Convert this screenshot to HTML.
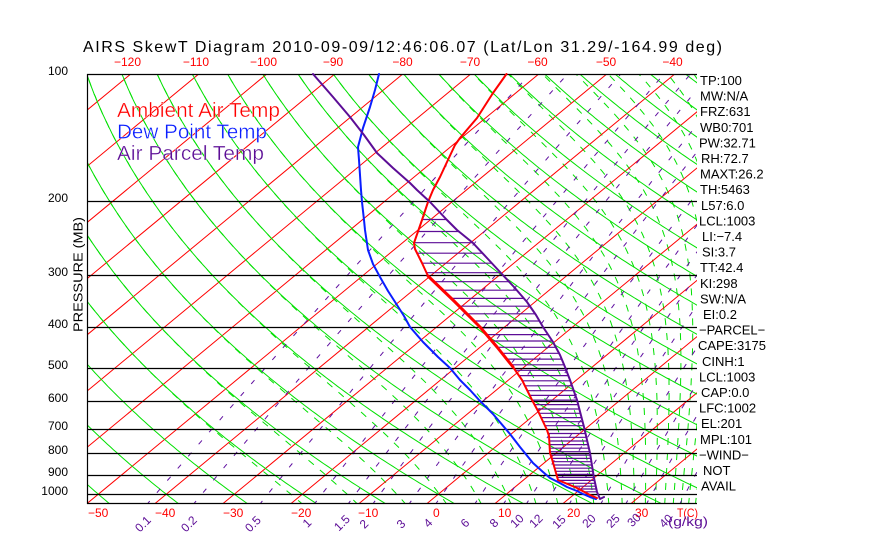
<!DOCTYPE html>
<html>
<head>
<meta charset="utf-8">
<style>
html,body{margin:0;padding:0;background:#fff;}
svg{display:block;}
text{font-family:"Liberation Sans",sans-serif;}
</style>
</head>
<body>
<svg id="s" width="870" height="560" viewBox="0 0 870 560" xmlns="http://www.w3.org/2000/svg">
<defs><clipPath id="c"><rect x="87" y="74" width="610" height="429"/></clipPath></defs>
<rect width="870" height="560" fill="#fff"/>
<g id="grid" clip-path="url(#c)" fill="none"></g>
<g id="hatch" clip-path="url(#c)" fill="none"></g>

<!-- pressure lines -->
<g stroke="#000" stroke-width="1.2" fill="none">
<path d="M87 74.5H697M87 201.5H697M87 275.5H697M87 327.5H697M87 368.5H697M87 401.5H697M87 429.5H697M87 453.5H697M87 475.5H697M87 494.5H697M87 503.5H697"/>
<path d="M87.5 74V504"/>
</g>

<!-- data curves -->
<g fill="none" stroke-linejoin="round" stroke-linecap="round">
<polyline stroke="#0a1eff" stroke-width="2" points="379,74 375,90 370,107 363,128 358,147 359,160 360,175 361,190 362,202 364,220 365,230 368,250 373,264 380,277 388,291 397,305 404,316 410,327 423,342 438,357 450,368 460,380 470,390 480,401 493,414 510,434 520,447 533,463 543,472 550,478 558,482 567,487 577,491 583,494 590,497 596,499"/>
<polyline stroke="#ff0000" stroke-width="2" points="506.5,74 493,93 477,118 460,138 455,145 447,162 440,177 433,190 428,202 422,220 414,243 415,249 417,253 422,263 428,276 454,301 480,327 497,347 513,367 522,380 532,400 538,411 547,430 549,436 550,453 552,459 558,480 577,488 590,495 597,498"/>
<polyline stroke="#ff0000" stroke-width="3" points="428,276 454,301 480,327 497,347 513,367"/>
<polyline stroke="#5c0d96" stroke-width="2" points="313,74 333,97 350,117 364,135 377,153 393,168 410,183 417,190 430,202 447,220 457,230 473,243 487,258 500,272 514,287 527,302 536,315 543,327 553,342 560,355 565,367 570,380 577,400 584,427 590,453 594,478 597,492 600,499 604,497"/>
</g>

<!-- title -->
<text x="83" y="52" font-size="16" textLength="639" lengthAdjust="spacing" fill="#000">AIRS SkewT Diagram 2010-09-09/12:46:06.07 (Lat/Lon 31.29/-164.99 deg)</text>

<!-- top temperature labels -->
<g font-size="12" fill="#ff0000" text-anchor="middle">
<text x="127.5" y="66">−120</text>
<text x="196" y="66">−110</text>
<text x="263.5" y="66">−100</text>
<text x="333" y="66">−90</text>
<text x="402.5" y="66">−80</text>
<text x="470" y="66">−70</text>
<text x="537.5" y="66">−60</text>
<text x="606" y="66">−50</text>
<text x="672.5" y="66">−40</text>
</g>

<!-- bottom temperature labels -->
<g font-size="12" fill="#ff0000">
<text x="88" y="517">−50</text>
<text x="155" y="517">−40</text>
<text x="223" y="517">−30</text>
<text x="291" y="517">−20</text>
<text x="358" y="517">−10</text>
<text x="433" y="517">0</text>
<text x="498" y="517">10</text>
<text x="567" y="517">20</text>
<text x="635" y="517">30</text>
<text x="677" y="517" textLength="21" lengthAdjust="spacingAndGlyphs">T(C)</text>
</g>

<!-- mixing ratio labels -->
<g font-size="12" fill="#5c0d96" text-anchor="middle">
<text x="143" y="528" transform="rotate(-45 143 524)">0.1</text>
<text x="189" y="528" transform="rotate(-45 189 524)">0.2</text>
<text x="253" y="528" transform="rotate(-45 253 524)">0.5</text>
<text x="307" y="527" transform="rotate(-45 307 523)">1</text>
<text x="342" y="527" transform="rotate(-45 342 523)">1.5</text>
<text x="364" y="528" transform="rotate(-45 364 524)">2</text>
<text x="401" y="528" transform="rotate(-45 401 524)">3</text>
<text x="428" y="527" transform="rotate(-45 428 523)">4</text>
<text x="465" y="527" transform="rotate(-45 465 523)">6</text>
<text x="494" y="527" transform="rotate(-45 494 523)">8</text>
<text x="517" y="525" transform="rotate(-45 517 521)">10</text>
<text x="536" y="525" transform="rotate(-45 536 521)">12</text>
<text x="559" y="526" transform="rotate(-45 559 522)">15</text>
<text x="589" y="525" transform="rotate(-45 589 521)">20</text>
<text x="613" y="525" transform="rotate(-45 613 521)">25</text>
<text x="634" y="524" transform="rotate(-45 634 520)">30</text>
<text x="666" y="525" transform="rotate(-45 666 521)">40</text>
</g>
<text x="668" y="526" font-size="13" fill="#5c0d96" textLength="40" lengthAdjust="spacingAndGlyphs">(g/kg)</text>

<!-- pressure labels -->
<g font-size="12" fill="#000" text-anchor="end">
<text x="68" y="75">100</text>
<text x="68" y="202">200</text>
<text x="68" y="276">300</text>
<text x="68" y="328">400</text>
<text x="68" y="369">500</text>
<text x="68" y="402">600</text>
<text x="68" y="430">700</text>
<text x="68" y="454">800</text>
<text x="68" y="476">900</text>
<text x="68" y="495">1000</text>
</g>
<text x="0" y="0" font-size="13" fill="#000" text-anchor="middle" transform="translate(82.5 274.5) rotate(-90)" textLength="115" lengthAdjust="spacingAndGlyphs">PRESSURE (MB)</text>

<!-- legend -->
<g stroke="#fff" stroke-width="0.35">
<text x="117" y="117" font-size="20" fill="#ff0000" textLength="163" lengthAdjust="spacingAndGlyphs">Ambient Air Temp</text>
<text x="117" y="138.5" font-size="20" fill="#0a1eff" textLength="150" lengthAdjust="spacingAndGlyphs">Dew Point Temp</text>
<text x="117" y="160" font-size="20" fill="#5c0d96" textLength="147" lengthAdjust="spacingAndGlyphs">Air Parcel Temp</text>
</g>

<!-- right stats -->
<g font-size="13" fill="#000">
<text x="700" y="85">TP:100</text>
<text x="700" y="100.6">MW:N/A</text>
<text x="700" y="116.2">FRZ:631</text>
<text x="700" y="131.8">WB0:701</text>
<text x="699" y="147.4">PW:32.71</text>
<text x="701" y="163">RH:72.7</text>
<text x="700" y="178.6">MAXT:26.2</text>
<text x="700" y="194.2">TH:5463</text>
<text x="701" y="209.8">L57:6.0</text>
<text x="699" y="225.4">LCL:1003</text>
<text x="702" y="241">LI:−7.4</text>
<text x="702" y="256.6">SI:3.7</text>
<text x="700" y="272.2">TT:42.4</text>
<text x="700" y="287.8">KI:298</text>
<text x="700" y="303.4">SW:N/A</text>
<text x="703" y="319">EI:0.2</text>
<text x="699" y="334.6">−PARCEL−</text>
<text x="698" y="350.2">CAPE:3175</text>
<text x="702" y="365.8">CINH:1</text>
<text x="699" y="381.4">LCL:1003</text>
<text x="701" y="397">CAP:0.0</text>
<text x="699" y="412.6">LFC:1002</text>
<text x="701" y="428.2">EL:201</text>
<text x="700" y="443.8">MPL:101</text>
<text x="699" y="459.4">−WIND−</text>
<text x="703" y="475">NOT</text>
<text x="701" y="490.6">AVAIL</text>
</g>
</svg>

<script>
(function(){
var NS="http://www.w3.org/2000/svg";
var g=document.getElementById('grid');
var hg=document.getElementById('hatch');
function Y(p){return 74+182.5*Math.log(p/100);}
function X(T,y){return 427.7+6.8*T+1.21*(503-y);}
function add(par,d,stroke,w,dash){
  var e=document.createElementNS(NS,'path');
  e.setAttribute('d',d);e.setAttribute('stroke',stroke);
  e.setAttribute('stroke-width',w);e.setAttribute('fill','none');
  if(dash)e.setAttribute('stroke-dasharray',dash);
  par.appendChild(e);
}
var ps=[];for(var p=1060;p>=95;p*=0.985)ps.push(p);ps.push(94);
var d='',i,T,y,s;
function es(Tc){return 6.112*Math.exp(17.67*Tc/(Tc+243.5));}
function thte(Tc,p){var Tk=Tc+273.15;var e=es(Tc);if(e>0.8*p)return 1e9;var ws=0.622*e/(p-e);
  return Tk*Math.pow(1000/p,0.2857)*Math.exp(2.5e6*ws/(1004*Tk));}
function solve(te,p){var lo=-170,hi=60;for(var k=0;k<45;k++){var m=(lo+hi)/2;if(thte(m,p)>te)hi=m;else lo=m;}return (lo+hi)/2;}
d='';
for(var th=-20;th<=190;th+=10){
  var te=th+273.15;s='';
  for(i=0;i<ps.length;i++){y=Y(ps[i]);T=solve(te,ps[i]);s+=(i?'L':'M')+X(T,y).toFixed(1)+' '+y.toFixed(1);}
  d+=s;
}
add(g,d,'#00e000',1,'7 8');
d='';
for(T=-150;T<=50;T+=10){d+='M'+X(T,510).toFixed(1)+' 510L'+X(T,70).toFixed(1)+' 70';}
add(g,d,'#ff0000',1);
d='';
for(var t2=-60;t2<=200;t2+=10){
  s='';
  for(i=0;i<ps.length;i++){y=Y(ps[i]);T=(t2+273.15)*Math.pow(ps[i]/1000,0.2857)-273.15;s+=(i?'L':'M')+X(T,y).toFixed(1)+' '+y.toFixed(1);}
  d+=s;
}
add(g,d,'#00e000',1);
var W=[0.1,0.2,0.5,1,1.5,2,3,4,6,8,10,12,15,20,25,30,40];
d='';
for(var j=0;j<W.length;j++){
  var w=W[j]/1000;s='';
  for(i=0;i<ps.length;i++){var pp=ps[i];var e=w*pp/(0.622+w);var l=Math.log(e/6.112);var Td=243.5*l/(17.67-l);y=Y(pp);
    s+=(i?'L':'M')+X(Td,y).toFixed(1)+' '+y.toFixed(1);}
  d+=s;
}
add(g,d,'#6010a0',1,'5 11');
var TP=[[506.5,74],[493,93],[477,118],[460,138],[455,145],[447,162],[440,177],[433,190],[428,202],[422,220],[414,243],[415,249],[417,253],[422,263],[428,276],[454,301],[480,327],[497,347],[513,367],[522,380],[532,400],[538,411],[547,430],[549,436],[550,453],[552,459],[558,480],[577,488],[590,495],[597,498]];
var PP=[[313,74],[333,97],[350,117],[364,135],[377,153],[393,168],[410,183],[417,190],[430,202],[447,220],[457,230],[473,243],[487,258],[500,272],[514,287],[527,302],[536,315],[543,327],[553,342],[560,355],[565,367],[570,380],[577,400],[584,427],[590,453],[594,478],[597,492],[600,499]];
function ix(poly,yy){for(var k=0;k<poly.length-1;k++){var a=poly[k],b=poly[k+1];if(yy>=a[1]&&yy<=b[1]){var t=(yy-a[1])/((b[1]-a[1])||1);return a[0]+t*(b[0]-a[0]);}}return null;}
d='';
for(var pr=1002;pr>=221;pr-=15){y=Y(pr);var a=ix(TP,y),b=ix(PP,y);if(a!==null&&b!==null&&b>a)d+='M'+a.toFixed(1)+' '+y.toFixed(1)+'H'+b.toFixed(1);}
add(hg,d,'#5c0d96',1.2);
})();
</script>
</body>
</html>
